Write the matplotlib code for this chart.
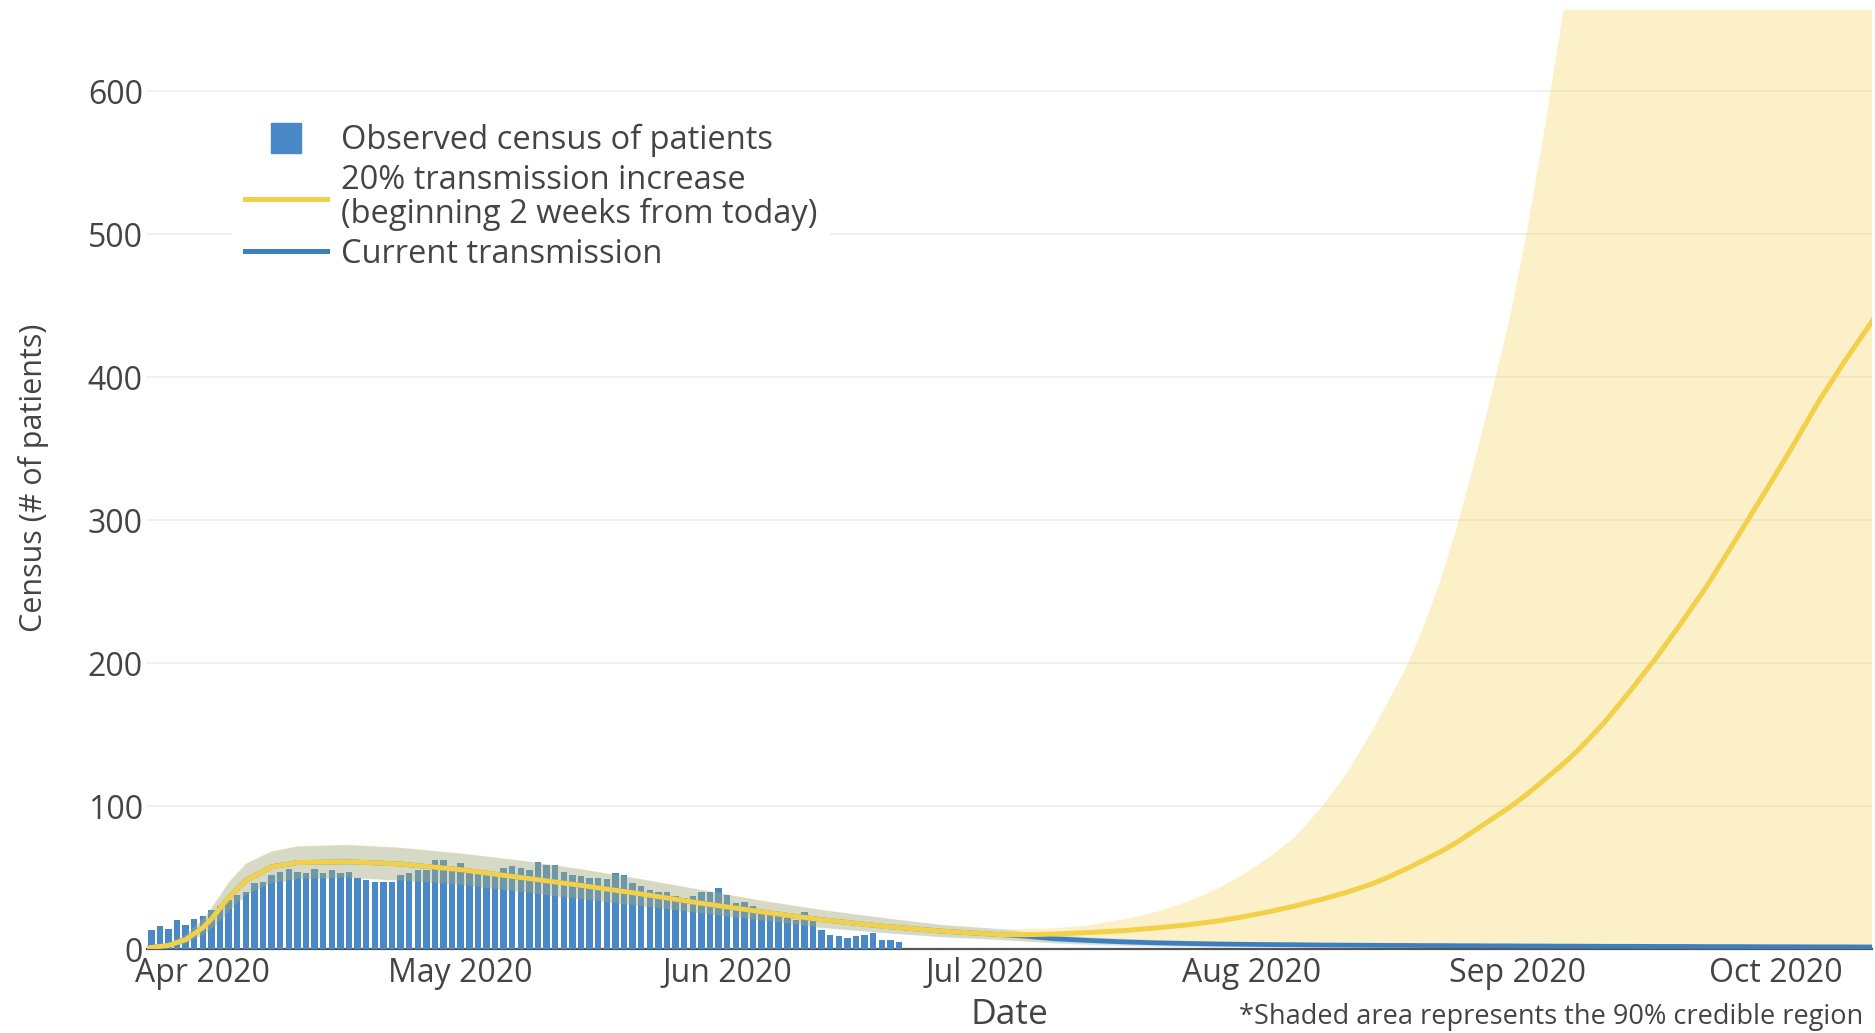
import numpy as np
import matplotlib
matplotlib.use('Agg')
import matplotlib.pyplot as plt
import matplotlib.dates as mdates
from matplotlib.lines import Line2D
import pandas as pd

plt.rcParams['font.family'] = ['Open Sans', 'DejaVu Sans']

# observed daily census (bars), one value per day from bar_start
bar_start = '2020-03-26'
bar_values = [13, 16, 14, 20, 17, 21, 23, 27, 30, 34, 38, 40, 46, 47, 52, 54, 56, 54, 53, 56,
              53, 55, 53, 54, 50, 48, 47, 47, 47, 52, 53, 55, 55, 62, 62, 55, 60, 56, 55, 54,
              54, 57, 58, 57, 55, 61, 59, 59, 54, 52, 51, 50, 50, 49, 53, 52, 46, 44, 41, 40,
              40, 37, 36, 37, 40, 40, 43, 38, 32, 33, 30, 27, 25, 24, 22, 20, 26, 20, 13, 10,
              9, 8, 9, 10, 11, 6, 6, 5]

# model fit, shared by both scenarios up to early July
hist_dates = ['2020-03-25', '2020-03-28', '2020-03-30', '2020-04-01', '2020-04-02', '2020-04-04',
              '2020-04-06', '2020-04-09', '2020-04-12', '2020-04-18', '2020-04-24', '2020-05-01',
              '2020-05-08', '2020-05-15', '2020-05-22', '2020-05-29', '2020-06-05', '2020-06-12',
              '2020-06-19', '2020-06-26', '2020-07-03']
hist_mid = [0.3, 2.5, 6.5, 15, 21, 36, 48, 57.5, 60.5, 61, 59.5, 55.5, 50, 44.5, 38.5, 32, 26,
            20.5, 16, 12.5, 10]
hist_lo = [0, 1.5, 4, 10, 14, 26, 38, 46, 49, 50, 48, 45, 40, 35, 30, 25, 20, 15, 11.5, 8.5, 6.5]
hist_hi = [0.8, 4, 10, 21, 29, 47, 60, 68.5, 72, 73, 71, 67, 62, 56, 49, 41.5, 34, 27.5, 22, 17, 14]

# projections
fut_dates = ['2020-07-06', '2020-07-09', '2020-07-13', '2020-07-17', '2020-07-21', '2020-07-25',
             '2020-07-28', '2020-07-31', '2020-08-03', '2020-08-06', '2020-08-09', '2020-08-12',
             '2020-08-15', '2020-08-17', '2020-08-19', '2020-08-21', '2020-08-23', '2020-08-25',
             '2020-08-27', '2020-08-29', '2020-08-31', '2020-09-02', '2020-09-04', '2020-09-06',
             '2020-09-08', '2020-09-11', '2020-09-14', '2020-09-17', '2020-09-20', '2020-09-23',
             '2020-09-26', '2020-09-30', '2020-10-03', '2020-10-06', '2020-10-09', '2020-10-13']
inc_mid = [10, 10.5, 11.5, 12.8, 14.8, 17.2, 19.5, 22.5, 26, 30, 34.5, 39.5, 45.5, 50.5, 56, 62,
           68, 75, 83, 91, 99, 108, 118, 128, 139, 158, 180, 203, 228, 254, 283, 322, 352, 383,
           411, 446]
inc_lo = [5, 4.5, 3.5, 3, 2.5, 2.5, 2.2, 2.2, 2, 2, 2, 2, 2, 2, 2, 2, 2, 2, 2, 2, 2, 1.8, 1.8,
          1.8, 1.8, 1.8, 1.6, 1.6, 1.6, 1.5, 1.5, 1.5, 1.5, 1.5, 1.5, 1.5]
inc_hi = [14, 14.5, 16.5, 20.5, 26, 34, 42, 52, 64, 78, 98, 122, 152, 174, 197, 225, 258, 297,
          342, 390, 440, 500, 570, 645, 720, 850, 1000, 1150, 1300, 1500, 1700, 2000, 2300, 2600,
          2900, 3300]
cur_mid = [8.8, 7.2, 6, 5, 4.3, 3.8, 3.5, 3.3, 3.1, 3, 2.8, 2.7, 2.6, 2.5, 2.5, 2.4, 2.4, 2.3,
           2.3, 2.2, 2.2, 2.1, 2.1, 2, 2, 1.9, 1.9, 1.8, 1.8, 1.7, 1.7, 1.6, 1.6, 1.5, 1.5, 1.4]
cur_lo = [5.5, 4.2, 3.2, 2.5, 2, 1.7, 1.5, 1.4, 1.3, 1.2, 1.1, 1.1, 1, 1, 1, 0.9, 0.9, 0.9, 0.9,
          0.8, 0.8, 0.8, 0.8, 0.8, 0.7, 0.7, 0.7, 0.7, 0.6, 0.6, 0.6, 0.6, 0.5, 0.5, 0.5, 0.5]
cur_hi = [12, 10, 8.5, 7.5, 6.5, 6, 5.5, 5.1, 4.8, 4.6, 4.4, 4.2, 4, 3.9, 3.8, 3.7, 3.6, 3.5,
          3.5, 3.4, 3.3, 3.3, 3.2, 3.2, 3.1, 3, 3, 2.9, 2.8, 2.8, 2.7, 2.6, 2.6, 2.5, 2.5, 2.4]

bar_color = '#4a89c8'
yellow = '#f2d04a'
blue = '#3d7ebf'
text_color = '#444444'

bar_dates = pd.date_range(bar_start, periods=len(bar_values), freq='D')
model_dates = pd.to_datetime(hist_dates + fut_dates)

fig = plt.figure(figsize=(18.75, 10.33), dpi=100)
ax = fig.add_axes([147/1875, 1 - 949/1033, 1725/1875, 939/1033])

ax.axhline(0, color='#555555', lw=1.6, zorder=1, clip_on=False)
ax.bar(bar_dates, bar_values, width=0.75, color=bar_color, zorder=2)

ax.fill_between(model_dates, hist_lo + inc_lo, hist_hi + inc_hi, color=yellow, alpha=0.3,
                lw=0, zorder=3)
ax.fill_between(model_dates, hist_lo + cur_lo, hist_hi + cur_hi, color=blue, alpha=0.2,
                lw=0, zorder=3)
ax.plot(model_dates, hist_mid + cur_mid, color=blue, lw=3.4, zorder=4, solid_capstyle='butt')
ax.plot(model_dates, hist_mid + inc_mid, color=yellow, lw=3.6, zorder=5, solid_capstyle='butt')

ax.set_xlim(pd.Timestamp('2020-03-25 12:00'), pd.Timestamp('2020-10-12 05:00'))
ax.set_ylim(0, 657)
ax.set_yticks([0, 100, 200, 300, 400, 500, 600])
ax.xaxis.set_major_locator(mdates.MonthLocator())
ax.xaxis.set_major_formatter(mdates.DateFormatter('%b %Y'))

ax.grid(axis='y', color='#eeeeee', lw=1.2, zorder=0)
ax.set_axisbelow(True)
for s in ax.spines.values():
    s.set_visible(False)
ax.tick_params(axis='both', length=0, labelsize=23, colors=text_color)
ax.tick_params(axis='y', pad=3)
ax.tick_params(axis='x', pad=6)

handles = [Line2D([], [], ls='none', marker='s', markersize=22, color=bar_color),
           Line2D([], [], color=yellow, lw=3.6),
           Line2D([], [], color=blue, lw=3.6)]
labels = ['Observed census of patients',
          '20% transmission increase\n(beginning 2 weeks from today)',
          'Current transmission']
leg = ax.legend(handles, labels, loc='upper left', bbox_to_anchor=(232/1875, 1 - 111/1033),
                bbox_transform=fig.transFigure, borderaxespad=0, borderpad=0.4,
                frameon=True, facecolor='white', edgecolor='none', framealpha=1, fancybox=False,
                fontsize=23.5, handlelength=2.5, handletextpad=0.43, labelspacing=0.2)
for t in leg.get_texts():
    t.set_color(text_color)
    t.set_linespacing(1.05)

fig.text(34/1875, 1 - 478/1033, 'Census (# of patients)', rotation=90, ha='center', va='center',
         fontsize=22, color=text_color)
fig.text(1009/1875, 1 - 1015/1033, 'Date', ha='center', va='center', fontsize=25.5,
         color=text_color)
fig.text(1863/1875, 1 - 1017/1033, '*Shaded area represents the 90% credible region',
         ha='right', va='center', fontsize=19.5, color=text_color)

fig.savefig('out.png', dpi=100)
